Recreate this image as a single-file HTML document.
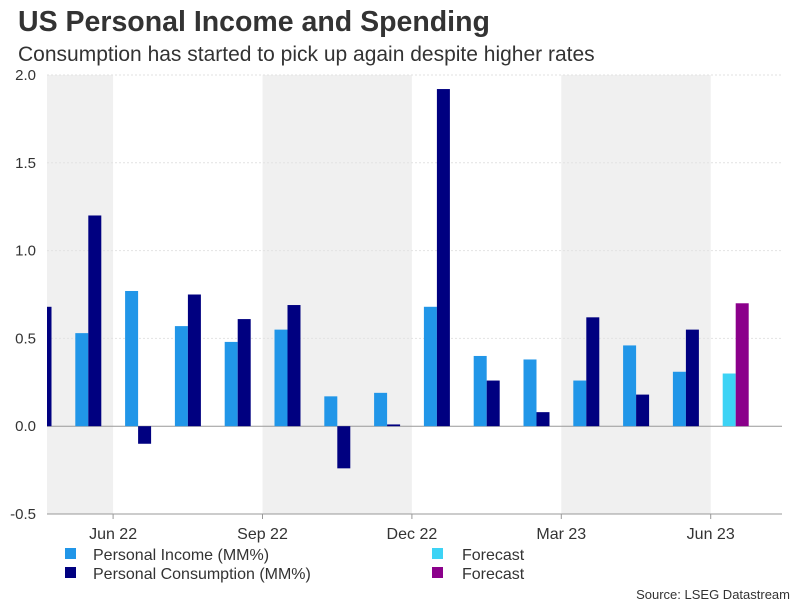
<!DOCTYPE html>
<html><head><meta charset="utf-8"><style>
body{margin:0;background:#fff;font-family:"Liberation Sans",Arial,sans-serif;}
svg text{font-family:"Liberation Sans",Arial,sans-serif;}
</style></head><body>
<svg id="c" width="806" height="605">
<text x="18" y="31" font-size="28.5" font-weight="bold" fill="#333">US Personal Income and Spending</text>
<text x="18" y="61" font-size="21" fill="#333">Consumption has started to pick up again despite higher rates</text>
<g id="bands"></g><g id="grid"></g><g id="bars"></g><g id="axes"></g>
<g>
<rect x="65" y="548" width="11" height="11" fill="#2196e8"/>
<text x="93" y="560" font-size="16" fill="#333">Personal Income (MM%)</text>
<rect x="65" y="567" width="11" height="11" fill="#000080"/>
<text x="93" y="579" font-size="16" fill="#333">Personal Consumption (MM%)</text>
<rect x="432" y="548" width="11" height="11" fill="#3dd3f5"/>
<text x="462" y="560" font-size="16" fill="#333">Forecast</text>
<rect x="432" y="567" width="11" height="11" fill="#8b008b"/>
<text x="462" y="579" font-size="16" fill="#333">Forecast</text>
</g>
<text x="790" y="599" font-size="13" fill="#333" text-anchor="end">Source: LSEG Datastream</text>
</svg>
<script>
const months=["May 22","Jun 22","Jul 22","Aug 22","Sep 22","Oct 22","Nov 22","Dec 22","Jan 23","Feb 23","Mar 23","Apr 23","May 23","Jun 23","Jul 23"];
const income=[0.50,0.53,0.77,0.57,0.48,0.55,0.17,0.19,0.68,0.40,0.38,0.26,0.46,0.31,0.30];
const consumption=[0.68,1.20,-0.10,0.75,0.61,0.69,-0.24,0.01,1.92,0.26,0.08,0.62,0.18,0.55,0.70];
const isForecast=[false,false,false,false,false,false,false,false,false,false,false,false,false,false,true];
const yTicks=[-0.5,0,0.5,1.0,1.5,2.0];
const yTickLabels=["-0.5","0.0","0.5","1.0","1.5","2.0"];
const xTickLabels=["Jun 22","Sep 22","Dec 22","Mar 23","Jun 23"];
const xTickMonthIdx=[1,4,7,10,13];
const NS="http://www.w3.org/2000/svg";
const L=47,R=782,T=75,B=514,mW=49.8,x0=13.5;
function y(v){return T+(2-v)/2.5*(B-T);}
function mx(i){return x0+i*mW;}
function mk(tag,attrs,parent){const e=document.createElementNS(NS,tag);for(const k in attrs)e.setAttribute(k,attrs[k]);document.getElementById(parent).appendChild(e);return e;}
[[L,mx(2)],[mx(5),mx(8)],[mx(11),mx(14)]].forEach((b,i)=>{
 const r=mk('rect',{x:b[0],y:T,width:b[1]-b[0],height:B-T,fill:'#f0f0f0'},'bands');
 
 
});
yTicks.forEach((v,i)=>{
 const l=mk('line',{x1:L,x2:R,y1:y(v),y2:y(v),stroke:v===0?'#999':'#e2e2e2','stroke-width':1,'stroke-dasharray':v===0?'':'2,2'},'grid');
 
 
 const t=mk('text',{x:36,y:y(v)+5,'font-size':15,fill:'#333','text-anchor':'end'},'axes');
 t.textContent=yTickLabels[i];
 
 
});
const clip=mk('clipPath',{id:'pc'},'bars');
const cr=document.createElementNS(NS,'rect');cr.setAttribute('x',L);cr.setAttribute('y',0);cr.setAttribute('width',R-L);cr.setAttribute('height',605);clip.appendChild(cr);
months.forEach((m,i)=>{
 const s=mx(i);
 [[income[i],12,isForecast[i]?'#3dd3f5':'#2196e8','bar-income'],[consumption[i],25,isForecast[i]?'#8b008b':'#000080','bar-consumption']].forEach(d=>{
  const v=d[0],top=Math.min(y(v),y(0)),h=Math.abs(y(v)-y(0));
  const r=mk('rect',{x:s+d[1],y:top,width:13,height:Math.max(h,1),fill:d[2],'clip-path':'url(#pc)'},'bars');
  
  
 });
});
mk('line',{x1:L,x2:R,y1:B,y2:B,stroke:'#999'},'axes');
xTickLabels.forEach((lab,i)=>{
 const xx=mx(xTickMonthIdx[i]+1);
 const tk=mk('line',{x1:xx,x2:xx,y1:B,y2:B+5,stroke:'#999'},'axes');
 
 
 const t=mk('text',{x:xx,y:B+25,'font-size':16,fill:'#333','text-anchor':'middle'},'axes');
 t.textContent=lab;
 
 
});
</script>
</body></html>
